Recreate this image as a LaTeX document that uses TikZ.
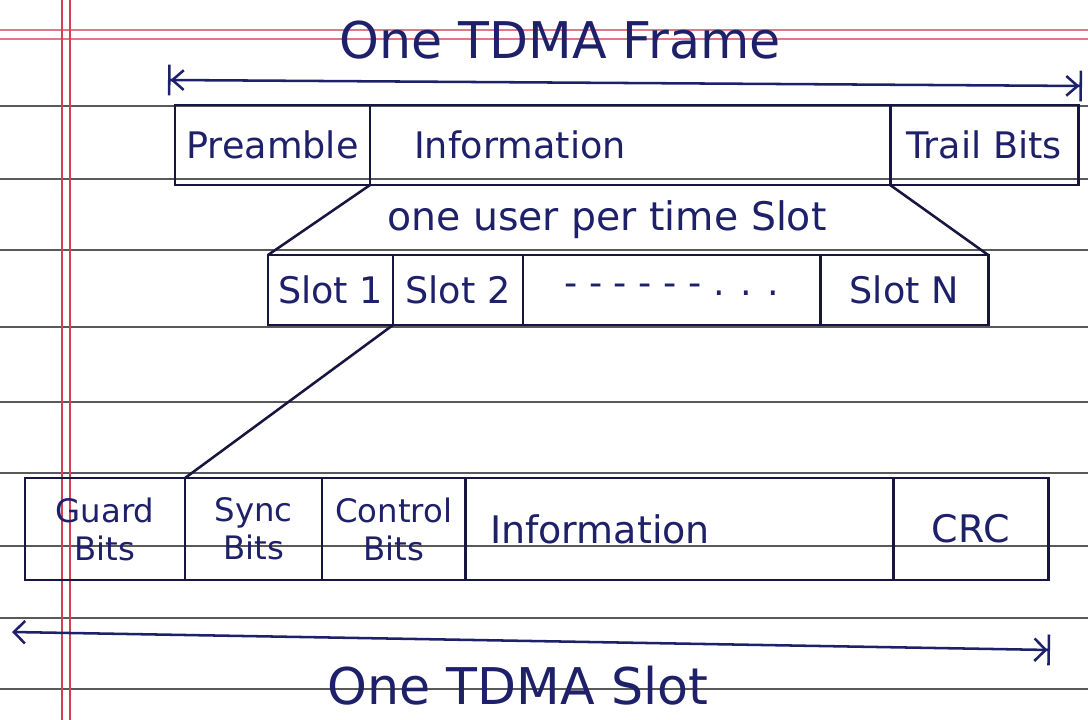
\documentclass[tikz,border=0pt]{standalone}
\usepackage{fontspec}
\setmainfont{DejaVu Sans}
\usetikzlibrary{arrows.meta,positioning}
\definecolor{ink}{RGB}{30,32,105}
\definecolor{pen}{RGB}{22,22,62}
\definecolor{margin}{RGB}{214,62,84}

\begin{document}
\begin{tikzpicture}[x=0.025cm,y=-0.025cm,
  cell/.style={draw=pen,line width=2pt,outer sep=0pt,inner sep=2pt,text=ink,font=\fontsize{26}{30}\selectfont},
  framebox/.style={cell,minimum height=2cm},
  slotbox/.style={cell,minimum height=1.75cm},
  partbox/.style={cell,minimum height=2.55cm,align=center,font=\fontsize{23}{27}\selectfont},
  link/.style={draw=pen,line width=1.8pt},
  span/.style={draw=ink,line width=1.8pt},
  heading/.style={text=ink,font=\fontsize{36}{40}\selectfont}]

% notebook page
\fill[white] (0,0) rectangle (1088,720);
\useasboundingbox (0,0) rectangle (1088,720);
\foreach \y in {106,179,250,327,402,473,546,618,689}
  \draw[black!65,line width=1pt] (0,\y) -- (1088,\y);
\draw[margin!70,line width=0.8pt] (0,30) -- (1088,30) (0,39) -- (1088,39);
\draw[margin,line width=1pt] (62,0) -- (62,720) (70,0) -- (70,720);

% frame
\node[framebox,anchor=north west,minimum width=4.875cm] (pre) at (175,105) {Preamble};
\node[framebox,right=0pt of pre,minimum width=13cm,text width=10.8cm,inner xsep=1.1cm,align=left] (finfo) {Information};
\node[framebox,right=0pt of finfo,minimum width=4.7cm] (trail) {Trail Bits};

% time slots
\node[slotbox,anchor=north west,minimum width=3.125cm] (s1) at (268,255) {Slot 1};
\node[slotbox,right=0pt of s1,minimum width=3.25cm] (s2) {Slot 2};
\node[slotbox,right=0pt of s2,minimum width=7.425cm] (dots) {- - - - - - . . .};
\node[slotbox,right=0pt of dots,minimum width=4.2cm] (sN) {Slot N};

% one slot in detail
\node[partbox,anchor=north west,minimum width=4cm] (guard) at (25,478) {Guard\\Bits};
\node[partbox,right=0pt of guard,minimum width=3.425cm] (sync) {Sync\\Bits};
\node[partbox,right=0pt of sync,minimum width=3.575cm] (ctrl) {Control\\Bits};
\node[partbox,right=0pt of ctrl,minimum width=10.7cm,text width=9.45cm,inner xsep=0.625cm,align=left,font=\fontsize{27}{32}\selectfont] (dinfo) {Information};
\node[partbox,right=0pt of dinfo,minimum width=3.875cm,font=\fontsize{27}{32}\selectfont] (crc) {CRC};

\draw[link] (pre.south east) -- (s1.north west);
\draw[link] (trail.south west) -- (sN.north east);
\draw[link] (s2.south west) -- (guard.north east);

% labels and spans
\node[heading] (frametitle) at (560,40) {One TDMA Frame};
\node[text=ink,font=\fontsize{28}{32}\selectfont] (peruser) at (607,220) {one user per time Slot};
\node[heading] (slottitle) at (518,686) {One TDMA Slot};

\coordinate (fl) at (168,80);
\coordinate (fr) at (1082,86);
\draw[span,{Bar[width=22pt]Straight Barb[length=8pt,width=14pt]}-{Straight Barb[length=8pt,width=14pt]Bar[width=22pt]}] (fl) -- (fr);
\coordinate (sl) at (12,632);
\coordinate (sr) at (1050,650);
\draw[span,{Straight Barb[length=8pt,width=16pt]}-{Straight Barb[length=8pt,width=16pt]Bar[width=22pt]}] (sl) -- (sr);
\end{tikzpicture}
\end{document}
